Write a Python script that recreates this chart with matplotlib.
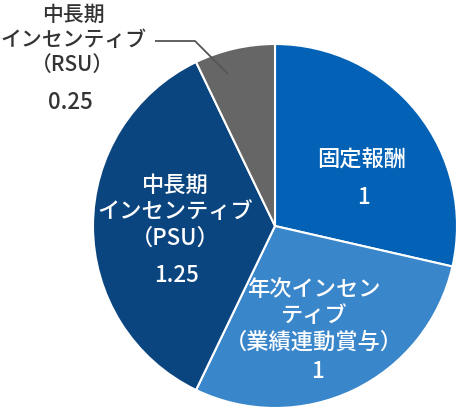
import matplotlib
matplotlib.use("Agg")
import matplotlib.pyplot as plt

plt.rcParams['font.family'] = ['Noto Sans CJK JP', 'DejaVu Sans']

# data
labels = ["固定報酬", "年次インセン\nティブ\n（業績連動賞与）", "中長期\nインセンティブ\n（PSU）", "中長期\nインセンティブ\n（RSU）"]
values = [1, 1, 1.25, 0.25]
value_labels = ["1", "1", "1.25", "0.25"]
colors = ["#0462b6", "#3a86cb", "#0b4580", "#666666"]

W, H = 460, 412
fig = plt.figure(figsize=(W / 100, H / 100), dpi=100)
ax = fig.add_axes([0, 0, 1, 1])

cx, cy, r = 275, H - 226, 182
ax.pie(values, colors=colors, startangle=90, counterclock=False,
       center=(cx, cy), radius=r,
       wedgeprops=dict(edgecolor="white", linewidth=1.5))
ax.set_xlim(0, W)
ax.set_ylim(0, H)
ax.axis("off")

fs = 16
# inside labels (pixel positions from top-left)
def put(x, y, s, color="white", size=fs):
    ax.text(x, H - y, s, ha="center", va="center", fontsize=size, color=color,
            linespacing=1.2, fontweight="medium")

put(362, 160, labels[0])
put(363, 197, value_labels[0])

put(314, 316, labels[1])
put(317, 372, value_labels[1])

put(175, 212, labels[2])
put(177, 276, value_labels[2])

put(73, 40, labels[3], color="#333333", size=15)
put(70, 102, value_labels[3], color="#333333")

# leader line for RSU
ax.plot([155, 195, 228], [H - 41, H - 41, H - 74], color="#555555", lw=1.3,
        solid_capstyle="butt")

fig.savefig("out.png", dpi=100)
